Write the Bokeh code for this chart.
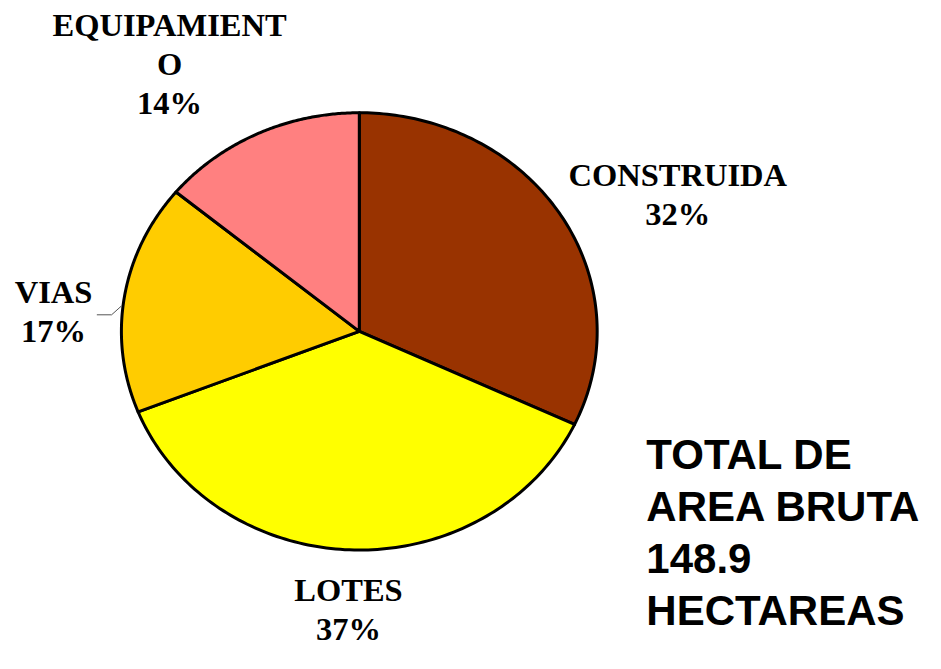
import numpy as np
from bokeh.plotting import figure
from bokeh.models import ColumnDataSource, Range1d
from bokeh.core.properties import value
from bokeh.embed import file_html
from bokeh.resources import INLINE

# ---- data ----
categories = ["CONSTRUIDA", "LOTES", "VIAS", "EQUIPAMIENTO"]
percents = [32, 37, 17, 14]
display_labels = ["CONSTRUIDA\n32%", "LOTES\n37%", "VIAS\n17%", "EQUIPAMIENT\nO\n14%"]
colors = ["#993300", "#FFFF00", "#FFCC00", "#FF8080"]
total_text = "TOTAL DE\nAREA BRUTA\n148.9\nHECTAREAS"

# ---- layout: reference frame (941x669) mapped onto the figure ----
W, H = 925, 653
REF_W, REF_H = 941, 669
CX, CY = 365, 339          # pie centre in reference pixels
RX, RY = 242, 224          # pie radii in reference pixels (slightly elliptical)

def px(x, y):
    return (x - CX) / RX, (CY - y) / RY

p = figure(width=W, height=H, output_backend="svg", toolbar_location=None,
           x_range=Range1d(-CX / RX, (REF_W - CX) / RX),
           y_range=Range1d((CY - REF_H) / RY, CY / RY),
           min_border=0)
p.axis.visible = False
p.grid.visible = False
p.outline_line_color = None
p.background_fill_color = "white"
p.border_fill_color = "white"

# ---- slices from the data ----
fr = np.array(percents, dtype=float) / sum(percents)
ends = np.cumsum(fr)
starts = ends - fr
xs, ys = [], []
for s, e in zip(starts, ends):
    a = np.linspace(np.pi / 2 - 2 * np.pi * s, np.pi / 2 - 2 * np.pi * e, 120)
    xs.append([0.0] + list(np.cos(a)))
    ys.append([0.0] + list(np.sin(a)))
p.patches(xs="xs", ys="ys", fill_color="color", line_color="black", line_width=3,
          line_join="round",
          source=ColumnDataSource(dict(xs=xs, ys=ys, color=colors)))

# ---- labels ----
label_pos = [(689, 199), (354, 624), (54, 319), (172, 65)]
lx = [px(*q)[0] for q in label_pos]
ly = [px(*q)[1] for q in label_pos]
p.text(x="x", y="y", text="t", source=ColumnDataSource(dict(x=lx, y=ly, t=display_labels)),
       text_font=value("Liberation Serif"), text_font_style="bold", text_font_size="32.5px",
       text_align="center", text_baseline="middle", text_line_height=1.09, text_color="black")

# leader line for VIAS
lxs, lys = zip(*[px(98, 322), px(113, 322), px(123, 313)])
p.line(list(lxs), list(lys), line_color="#555555", line_width=1)

# total annotation
tx, ty = px(657, 545)
p.text(x=[tx], y=[ty], text=[total_text], text_font=value("Liberation Sans"),
       text_font_style="bold", text_font_size="42px", text_align="left",
       text_baseline="middle", text_line_height=1.11, text_color="black")

open("out.html", "w").write(file_html(p, INLINE))
